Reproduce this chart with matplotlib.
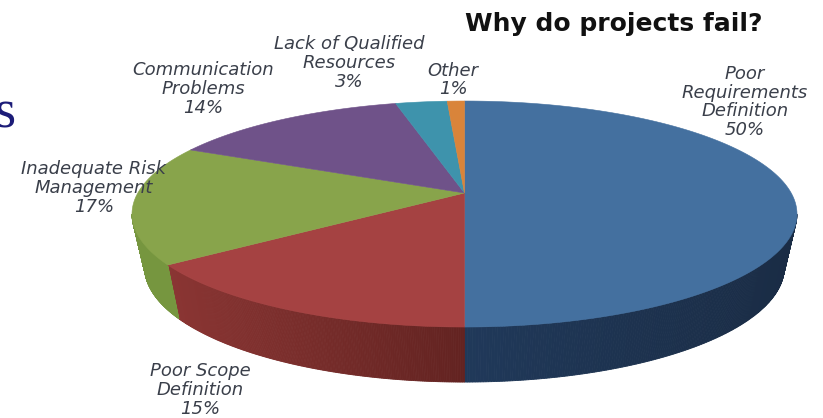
import numpy as np
import matplotlib
matplotlib.use('Agg')
import matplotlib.pyplot as plt

# Share of failed projects per cause, clockwise from 12 o'clock
causes = ['Poor\nRequirements\nDefinition', 'Poor Scope\nDefinition', 'Inadequate Risk\nManagement',
          'Communication\nProblems', 'Lack of Qualified\nResources', 'Other']
shares = [50, 15, 17, 14, 3, 1]
colors = ['#44709f', '#a54242', '#88a44b', '#6f5289', '#3e93ac', '#d9843a']
side_left = ['#20395a', '#8a3533', '#76963f', '#5d4474', '#337c92', '#b56d2d']
side_right = ['#1a2c45', '#632321', '#76963f', '#5d4474', '#337c92', '#b56d2d']
label_xy = [(745, 102), (200, 390), (94, 188), (203, 89), (349, 63), (453, 80)]

# Pie geometry in pixels: perspective projection of a tilted disc
cx, cy = 464.5, 193.0
ax_r, ay_r, persp = 326.7, 109.1, 0.186

# The lower rim is the upper outline moved down and slightly narrowed
top_mid_y, low_mid_y = 214.0, 267.0
low_sx, low_sy = 0.962, 1.018


def project(theta):
    # theta is clockwise from the top of the disc, in radians
    u, v = np.sin(theta), np.cos(theta)
    w = 1 + persp * v
    return cx + ax_r * u / w, cy - ay_r * v / w


def side_strips(ax, t0, t1, c0, c1):
    # Rim of one slice as narrow shaded bands
    ts = np.linspace(t0, t1, 200)
    x, y = project(ts)
    xb = cx + (x - cx) * low_sx
    yb = low_mid_y + (y - top_mid_y) * low_sy
    c0 = np.array(matplotlib.colors.to_rgb(c0))
    c1 = np.array(matplotlib.colors.to_rgb(c1))
    xmin, xmax = x.min(), x.max()
    for i in range(len(ts) - 1):
        f = (x[i] - xmin) / max(xmax - xmin, 1)
        col = c0 + (c1 - c0) * f
        ax.fill([x[i], x[i + 1], xb[i + 1], xb[i]],
                [y[i], y[i + 1], yb[i + 1], yb[i]],
                color=col, lw=0.6, zorder=2)


fig = plt.figure(figsize=(8.23, 4.18), dpi=100)
ax = fig.add_axes([0, 0, 1, 1])
ax.set_xlim(0, 823)
ax.set_ylim(418, 0)
ax.axis('off')

edges = np.radians(np.cumsum([0] + shares) * 3.6)

# the rim only shows between the widest points of the outline
rim_lo, rim_hi = np.radians(100.7), np.radians(259.3)
for i in range(len(shares)):
    lo, hi = max(edges[i], rim_lo), min(edges[i + 1], rim_hi)
    if hi > lo:
        side_strips(ax, lo, hi, side_left[i], side_right[i])

for i in range(len(shares)):
    ts = np.linspace(edges[i], edges[i + 1], 200)
    x, y = project(ts)
    ax.fill(np.r_[cx, x], np.r_[cy, y], color=colors[i], lw=0.4, zorder=3)

for name, share, (lx, ly) in zip(causes, shares, label_xy):
    ax.text(lx, ly, f'{name}\n{share}%', ha='center', va='center', fontsize=13,
            style='italic', color='#3a3f4a', family='DejaVu Sans', linespacing=1.05, zorder=5)

ax.text(614, 24, 'Why do projects fail?', ha='center', va='center', fontsize=18,
        fontweight='bold', color='#111111', family='DejaVu Sans')
ax.text(-5, 127.5, 's', ha='left', va='baseline', fontsize=39, color='#1c1c78',
        family='Liberation Serif')

fig.savefig('out.png', dpi=100)
